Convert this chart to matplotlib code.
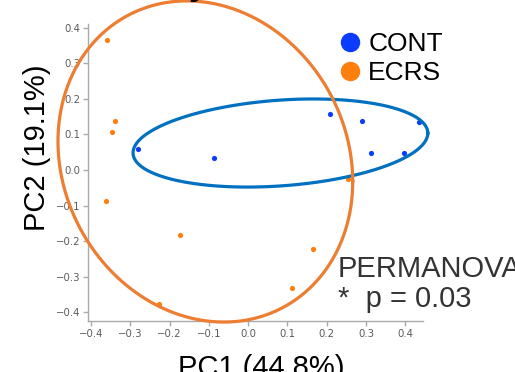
import numpy as np
import matplotlib
matplotlib.use("Agg")
import matplotlib.pyplot as plt
from matplotlib.lines import Line2D

# PCoA scores
cont_pc1 = [-0.281, -0.088, 0.209, 0.289, 0.435, 0.312, 0.396]
cont_pc2 = [0.060, 0.035, 0.159, 0.138, 0.136, 0.047, 0.049]
ecrs_pc1 = [-0.360, -0.338, -0.346, -0.362, -0.174, -0.228, 0.164, 0.111, 0.253]
ecrs_pc2 = [0.365, 0.138, 0.108, -0.086, -0.183, -0.378, -0.223, -0.333, -0.025]

groups = ["CONT", "ECRS"]
point_colors = ["#0a3cff", "#ff7f0e"]
pc1_label = "PC1 (44.8%)"
pc2_label = "PC2 (19.1%)"
stat_lines = ["PERMANOVA", "*  p = 0.03"]

# hand-drawn group outlines: centre, half-range in x / y, xy coupling
cont_outline = (0.082, 0.076, 0.375, 0.124, 0.0104)
ecrs_outline = (-0.109, 0.024, 0.375, 0.452, -0.0212)
outline_colors = ["#0070c0", "#ed7d31"]


def outline_xy(cx, cy, hx, hy, s, n=300):
    cov = np.array([[hx ** 2, s], [s, hy ** 2]])
    L = np.linalg.cholesky(cov)
    t = np.linspace(0, 2 * np.pi, n)
    pts = L @ np.vstack([np.cos(t), np.sin(t)])
    return pts[0] + cx, pts[1] + cy


fig = plt.figure(figsize=(5.15, 3.72), dpi=100)
ax = fig.add_axes([88 / 515, 51 / 372, 335 / 515, 297 / 372])

ax.scatter(cont_pc1, cont_pc2, s=14, color=point_colors[0], zorder=3, linewidths=0)
ax.scatter(ecrs_pc1, ecrs_pc2, s=14, color=point_colors[1], zorder=3, linewidths=0)

for params, col in zip([cont_outline, ecrs_outline], outline_colors):
    ex, ey = outline_xy(*params)
    ax.plot(ex, ey, color=col, lw=2.3, clip_on=False, zorder=4)

ax.set_xlim(-0.4076, 0.4448)
ax.set_ylim(-0.425, 0.411)
ax.set_xticks(np.round(np.arange(-0.4, 0.41, 0.1), 1))
ax.set_yticks(np.round(np.arange(-0.4, 0.41, 0.1), 1))

for side in ["top", "right"]:
    ax.spines[side].set_visible(False)
for side in ["left", "bottom"]:
    ax.spines[side].set_color("#aaaaaa")
    ax.spines[side].set_linewidth(1.0)
ax.tick_params(colors="#aaaaaa", labelcolor="#5a5a5a", labelsize=7.3,
               length=3.5, width=1.0, pad=2)

fig.text(37 / 515, 1 - 147.5 / 372, pc2_label, rotation=90, ha="center",
         va="center", fontsize=21, family="Liberation Sans")
fig.text(261 / 515, -0.012, pc1_label, ha="center", va="baseline",
         fontsize=21, family="Liberation Sans")

# title mostly cut off at the top edge in the original
fig.text(130 / 515, 1.012, "Bray-Curtis", ha="left", va="baseline",
         fontsize=22, fontweight="bold")

handles = [Line2D([], [], marker="o", linestyle="", color=c, markersize=13)
           for c in point_colors]
leg = fig.legend(handles, groups, loc="upper left",
                 bbox_to_anchor=(338 / 515, 1 - 32 / 372), frameon=False,
                 handlelength=0.9, handletextpad=0.25,
                 labelspacing=0.2, borderpad=0, borderaxespad=0,
                 prop={"family": "Liberation Sans", "size": 19})

fig.text(338 / 515, 1 - 277 / 372, stat_lines[0], ha="left", va="baseline",
         fontsize=21, color="#333333", family="Liberation Sans")
fig.text(338 / 515, 1 - 307 / 372, stat_lines[1], ha="left", va="baseline",
         fontsize=21, color="#333333", family="Liberation Sans")

fig.savefig("out.png", dpi=100)
